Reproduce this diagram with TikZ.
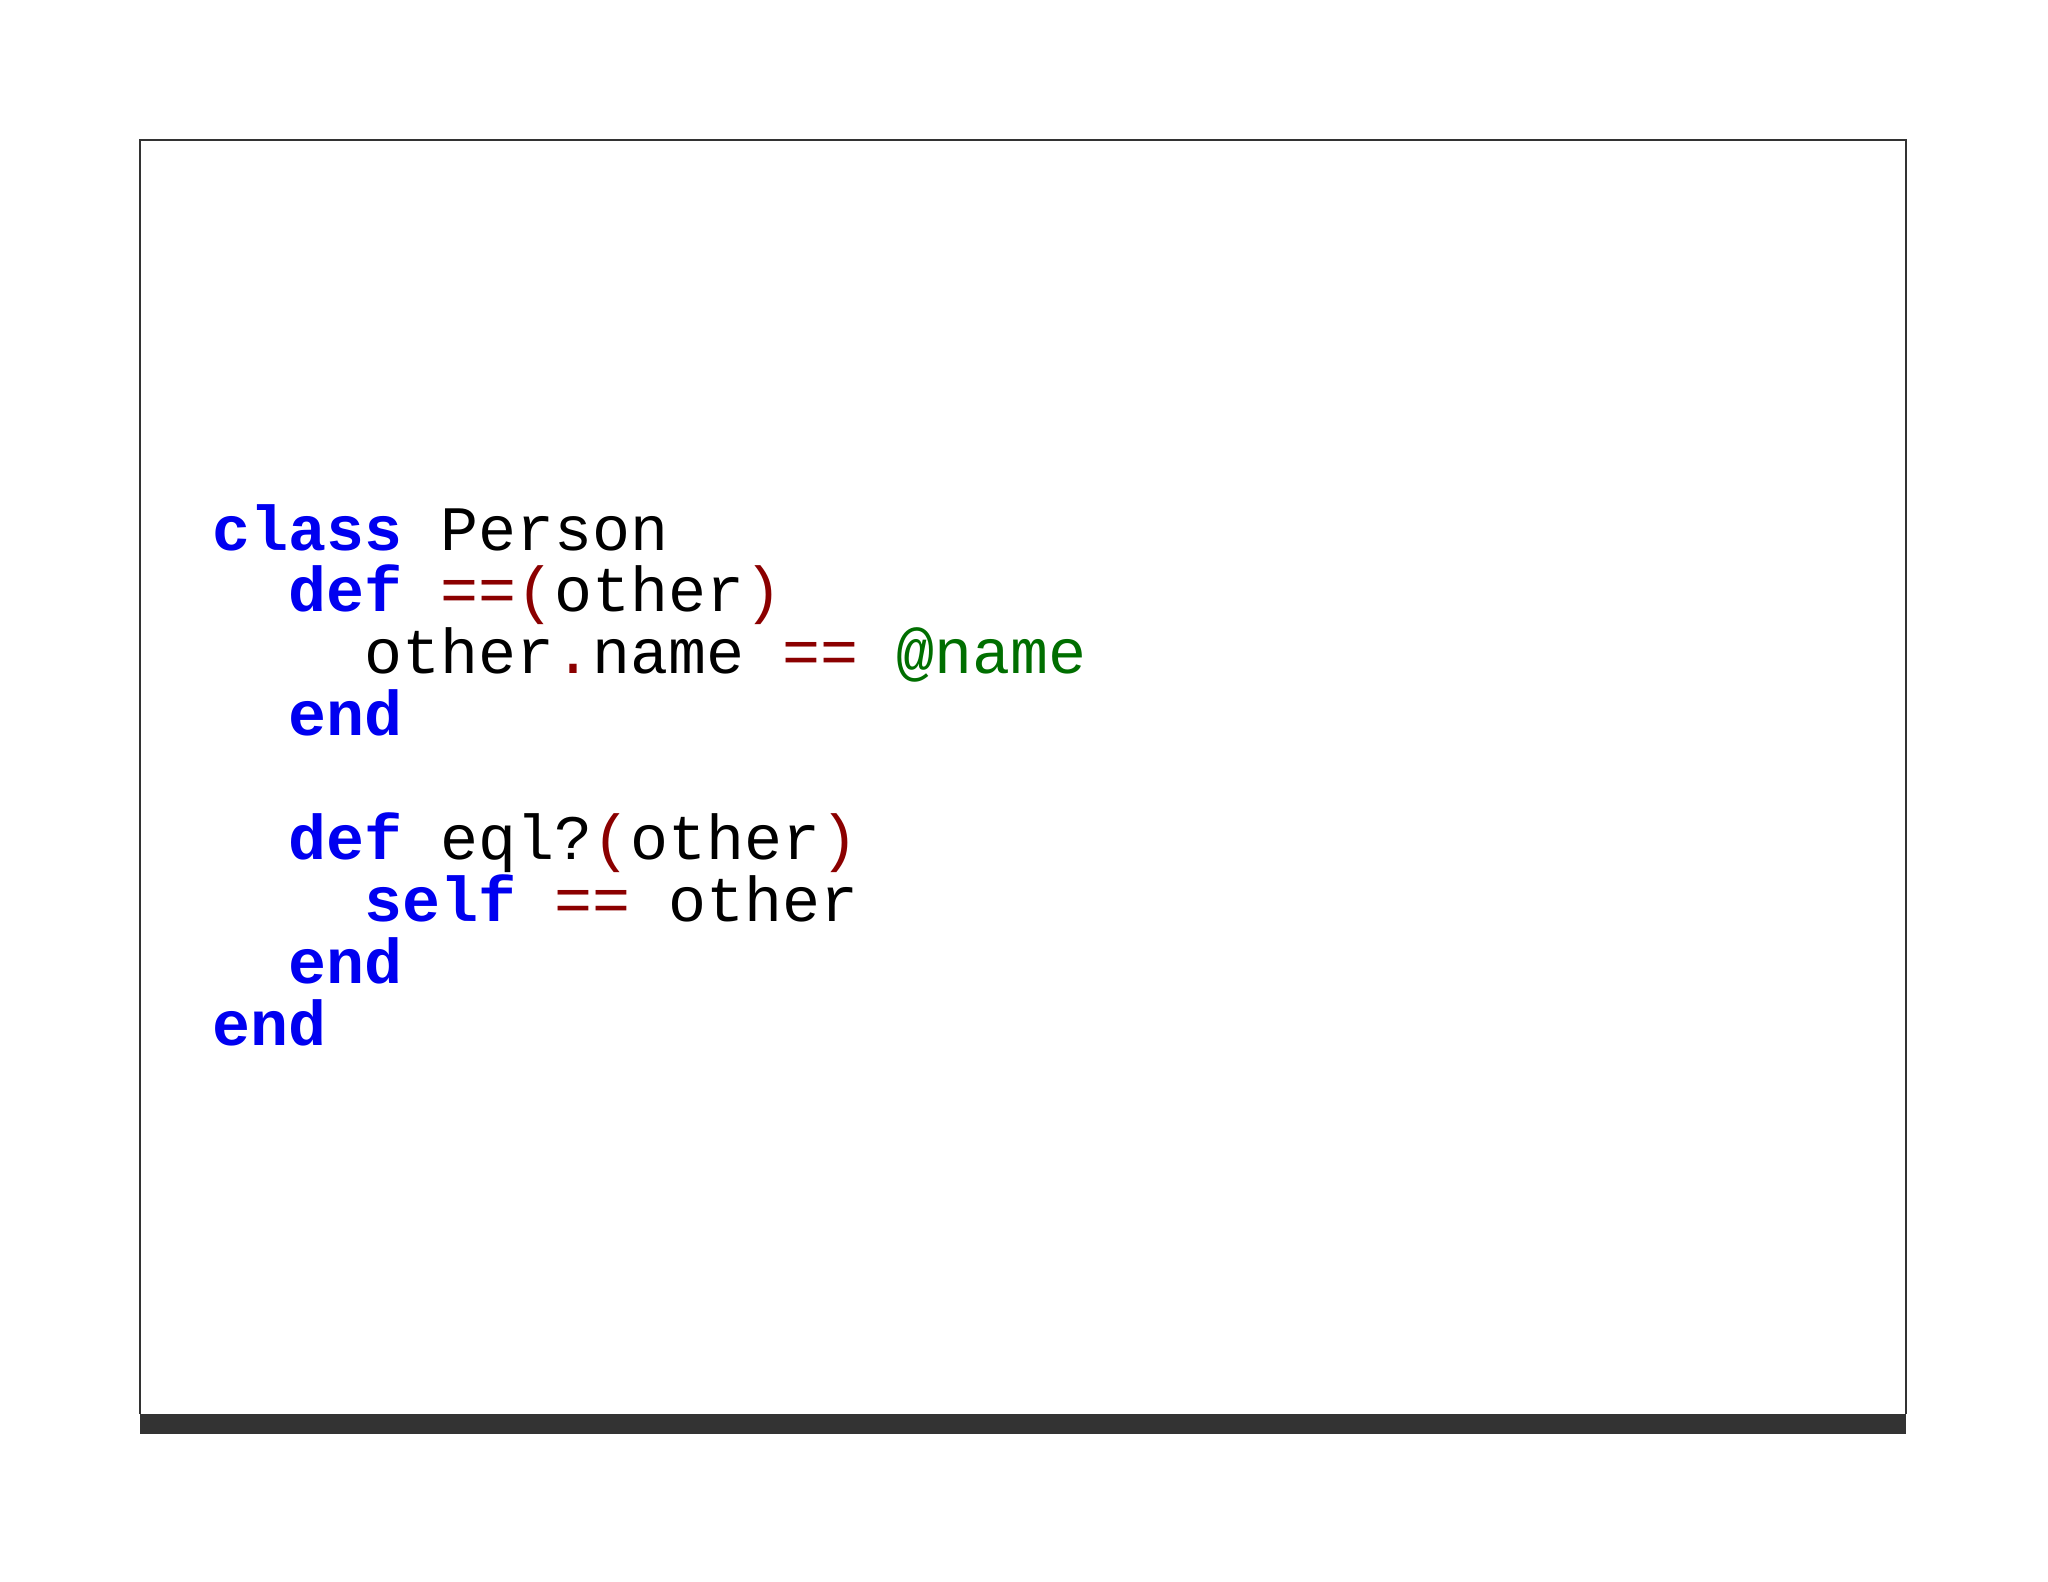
\documentclass[tikz,border=0pt]{standalone}
\usepackage{fontspec}
\setmonofont{Liberation Mono}
\definecolor{kw}{RGB}{0,0,240}
\definecolor{op}{RGB}{139,0,0}
\definecolor{iv}{RGB}{0,110,0}
\newcommand{\K}[1]{\textcolor{kw}{\bfseries #1}}
\newcommand{\Op}[1]{\textcolor{op}{#1}}
\begin{document}
\begin{tikzpicture}[x=0.01cm,y=-0.01cm,
  codeline/.style={anchor=base west,inner sep=0pt,font=\fontsize{18}{18}\ttfamily}]
\useasboundingbox (0,0) rectangle (2048,1582);
\draw[line width=0.8pt,black!80] (140,1414) -- (140,140) -- (1906,140) -- (1906,1414);
\fill[black!80] (140,1414) rectangle (1906,1434);
\def\lh{61.9}
\node[codeline] (l1) at (212,550) {\K{class} Person};
\node[codeline] (l2) at (212,550+\lh) {\ \ \K{def} \Op{==(}other\Op{)}};
\node[codeline] (l3) at (212,550+2*\lh) {\ \ \ \ other\Op{.}name \Op{==} \textcolor{iv}{@name}};
\node[codeline] (l4) at (212,550+3*\lh) {\ \ \K{end}};
\node[codeline] (l6) at (212,550+5*\lh) {\ \ \K{def} eql?\Op{(}other\Op{)}};
\node[codeline] (l7) at (212,550+6*\lh) {\ \ \ \ \K{self} \Op{==} other};
\node[codeline] (l8) at (212,550+7*\lh) {\ \ \K{end}};
\node[codeline] (l9) at (212,550+8*\lh) {\K{end}};
\end{tikzpicture}
\end{document}
